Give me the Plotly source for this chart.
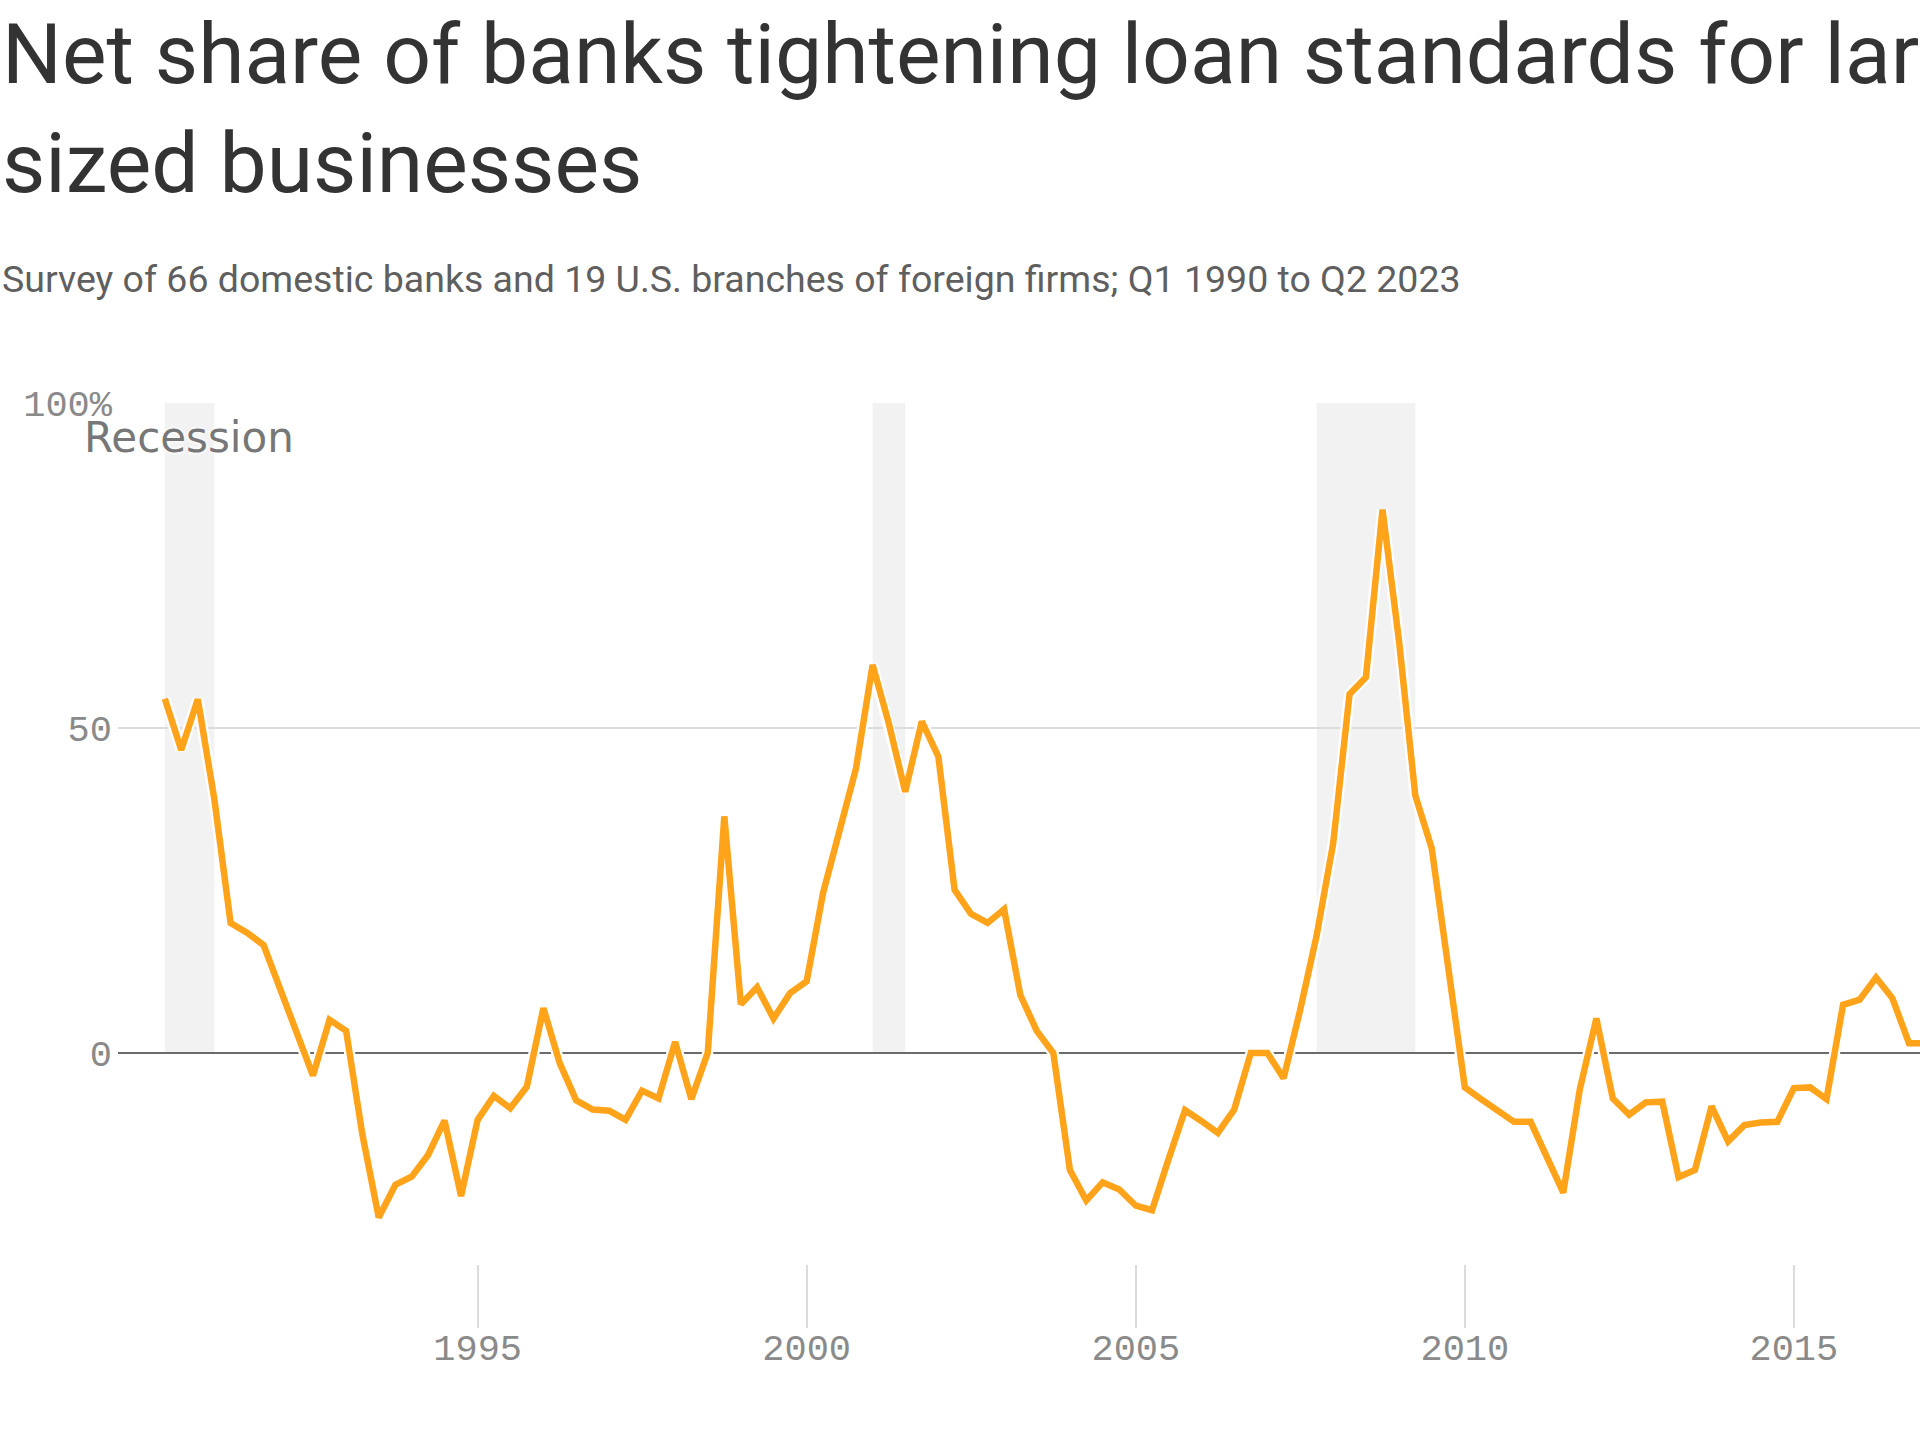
import pandas as pd
import plotly.graph_objects as go

# Net % of banks tightening standards for C&I loans to large & middle-market firms
start_quarter = "1990-04-01"
net_tightening = [
    54.5, 46.6, 54.4, 39.0, 20.0, 18.5, 16.6, 9.8, 3.1, -3.5,
    5.1, 3.4, -12.5, -25.3, -20.3, -19.0, -15.7, -10.4, -22.0, -10.3,
    -6.6, -8.5, -5.2, 6.9, -1.6, -7.3, -8.7, -8.9, -10.3, -5.8,
    -7.0, 1.7, -7.1, 0.0, 36.4, 7.5, 10.1, 5.3, 9.2, 11.0,
    24.6, 34.0, 43.8, 59.7, 50.7, 40.2, 51.0, 45.6, 25.1, 21.4,
    20.0, 22.1, 8.9, 3.4, 0.0, -18.0, -22.7, -19.9, -21.0, -23.5,
    -24.2, -16.4, -8.8, -10.5, -12.3, -8.7, 0.0, 0.0, -3.9, 6.5,
    18.0, 32.2, 55.2, 57.8, 83.6, 63.3, 39.6, 31.5, 13.1, -5.3,
    -7.1, -8.8, -10.6, -10.6, -16.3, -21.5, -5.6, 5.3, -7.0, -9.5,
    -7.6, -7.5, -19.1, -18.0, -8.2, -13.6, -11.1, -10.7, -10.6, -5.4,
    -5.3, -7.1, 7.4, 8.2, 11.6, 8.4, 1.5, 1.5,
]
quarters = pd.date_range(start_quarter, periods=len(net_tightening), freq="QS")

recession_starts = ["1990-04-01", "2001-01-01", "2007-10-01"]
recession_ends = ["1991-01-01", "2001-07-01", "2009-04-01"]

x_tick_years = [1995, 2000, 2005, 2010, 2015]
y_tick_values = [0, 50, 100]
y_tick_labels = ["0", "50", "100%"]

title_text = ("Net share of banks tightening loan standards for large and middle-"
              "<br>sized businesses")
subtitle_text = ("Survey of 66 domestic banks and 19 U.S. branches of foreign firms; "
                 "Q1 1990 to Q2 2023")

fig = go.Figure()
fig.add_trace(go.Scatter(x=quarters, y=net_tightening, mode="lines",
                         line=dict(color="white", width=11),
                         hoverinfo="skip", showlegend=False))
fig.add_trace(go.Scatter(x=quarters, y=net_tightening, mode="lines",
                         line=dict(color="#FFA31A", width=6.5),
                         showlegend=False))

for s, e in zip(recession_starts, recession_ends):
    fig.add_shape(type="rect", xref="x", yref="y", x0=s, x1=e, y0=0, y1=100,
                  fillcolor="#f2f2f2", line=dict(width=0), layer="below")

L, T, B, W, H = 118, 402, 176, 1920, 1440
PH = H - T - B
PW = W - L


def px_x(p):
    return (p - L) / PW


def px_y(p):
    return (H - B - p) / PH


fig.add_annotation(text=title_text, xref="paper", yref="paper",
                   x=px_x(0), y=px_y(109), xanchor="left", yanchor="middle",
                   align="left", showarrow=False,
                   font=dict(family="Roboto", size=84, color="#333333"))
fig.add_annotation(text=subtitle_text, xref="paper", yref="paper",
                   x=px_x(0), y=px_y(279), xanchor="left", yanchor="middle",
                   align="left", showarrow=False,
                   font=dict(family="Roboto", size=37.5, color="#5f5f5f"))
fig.add_annotation(text="Recession", xref="paper", yref="paper",
                   x=px_x(82), y=px_y(437), xanchor="left", yanchor="middle",
                   showarrow=False,
                   font=dict(family="DejaVu Sans", size=42, color="#777777",
                             shadow="0 0 4px white, 0 0 4px white"))

fig.update_layout(
    width=W, height=H,
    margin=dict(l=L, r=0, t=T, b=B, pad=0),
    plot_bgcolor="white", paper_bgcolor="white",
    showlegend=False,
    xaxis=dict(type="date", range=["1989-07-15", "2016-12-01"],
               tickvals=[f"{y}-01-01" for y in x_tick_years],
               ticktext=[str(y) for y in x_tick_years],
               ticks="outside", ticklen=63, tickwidth=1.5, tickcolor="#dcdcdc",
               showgrid=False, zeroline=False, showline=False,
               ticklabelstandoff=-12,
               tickfont=dict(family="Liberation Mono", size=37, color="#8a8a8a")),
    yaxis=dict(range=[-32.47, 100.15],
               tickvals=y_tick_values, ticktext=y_tick_labels,
               showgrid=True, gridcolor="#dcdcdc", gridwidth=1.5,
               zeroline=True, zerolinecolor="#6b6b6b", zerolinewidth=1.5,
               showline=False, ticks="", ticklabelstandoff=5,
               tickfont=dict(family="Liberation Mono", size=37, color="#8a8a8a")),
)

fig.write_html("out.html")
